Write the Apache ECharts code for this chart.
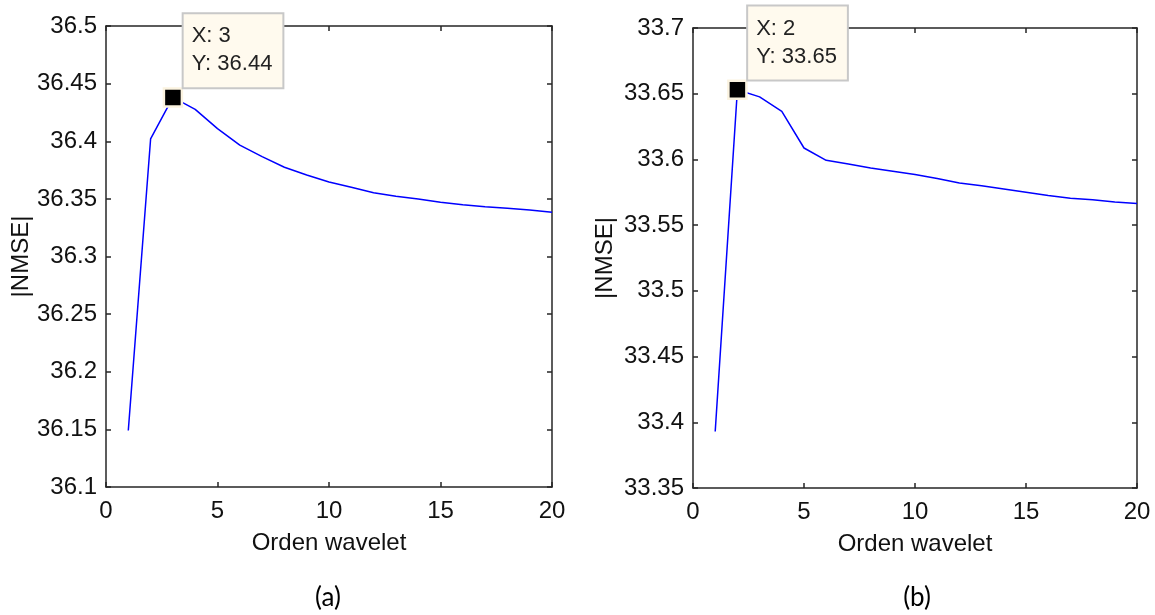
<!DOCTYPE html>
<html>
<head>
<meta charset="utf-8">
<script src="https://cdn.jsdelivr.net/npm/echarts@6/dist/echarts.min.js"></script>
<style>
  html, body { margin: 0; padding: 0; background: #fff; }
  #chart { width: 1155px; height: 615px; }
</style>
</head>
<body>
<div id="chart"></div>
<script>
// orden wavelet 1..20
var orden = [1, 2, 3, 4, 5, 6, 7, 8, 9, 10, 11, 12, 13, 14, 15, 16, 17, 18, 19, 20];
// |NMSE| panel (a)
var nmseA = [36.149, 36.402, 36.438, 36.4277, 36.411, 36.3967, 36.3866, 36.3774, 36.3707, 36.3646,
             36.360, 36.3554, 36.3522, 36.3499, 36.347, 36.345, 36.3432, 36.3418, 36.3403, 36.3383];
// |NMSE| panel (b)
var nmseB = [33.393, 33.653, 33.6476, 33.6366, 33.6087, 33.5993, 33.5965, 33.5935, 33.591, 33.5885,
             33.5855, 33.582, 33.580, 33.5775, 33.575, 33.5725, 33.5705, 33.5693, 33.5677, 33.5664];
// y ticks
var yTicksA = { min: 36.1, max: 36.5, interval: 0.05 };
var yTicksB = { min: 33.35, max: 33.7, interval: 0.05 };
// data tips
var tipA = { x: 3, y: 36.438, label: 'X: 3\nY: 36.44' };
var tipB = { x: 2, y: 33.653, label: 'X: 2\nY: 33.65' };

var FONT = 'Liberation Sans, Arial, sans-serif';
var AXC = '#262626';

function pairs(xs, ys) {
    return xs.map(function (x, i) { return [x, ys[i]]; });
}

function xAxes(gi) {
    var base = {
        type: 'value', gridIndex: gi, min: 0, max: 20, interval: 5,
        axisLine: { show: true, onZero: false, lineStyle: { color: AXC, width: 1.5 } },
        axisTick: { show: true, inside: true, length: 5, lineStyle: { color: AXC, width: 1.5 } },
        splitLine: { show: false }
    };
    var bottom = Object.assign({}, base, {
        position: 'bottom',
        name: 'Orden wavelet', nameLocation: 'middle', nameGap: 44,
        nameTextStyle: { fontFamily: FONT, fontSize: 24, color: '#111' },
        axisLabel: { fontFamily: FONT, fontSize: 24, color: '#111', margin: 12 }
    });
    var top = Object.assign({}, base, { position: 'top', axisLabel: { show: false } });
    return [bottom, top];
}

function yAxes(gi, t, gap) {
    var base = {
        type: 'value', gridIndex: gi, min: t.min, max: t.max, interval: t.interval,
        axisLine: { show: true, onZero: false, lineStyle: { color: AXC, width: 1.5 } },
        axisTick: { show: true, inside: true, length: 5, lineStyle: { color: AXC, width: 1.5 } },
        splitLine: { show: false }
    };
    var left = Object.assign({}, base, {
        position: 'left',
        name: '|NMSE|', nameLocation: 'middle', nameGap: gap, nameRotate: 90,
        nameTextStyle: { fontFamily: FONT, fontSize: 24, color: '#111' },
        axisLabel: { fontFamily: FONT, fontSize: 24, color: '#111', margin: 9 }
    });
    var right = Object.assign({}, base, { position: 'right', axisLabel: { show: false } });
    return [left, right];
}

function lineSeries(xi, yi, data, tip) {
    return {
        type: 'line', xAxisIndex: xi, yAxisIndex: yi,
        data: data, showSymbol: false, symbol: 'none',
        lineStyle: { color: '#0000ff', width: 1.5 },
        animation: false,
        markPoint: {
            symbol: 'rect', symbolSize: 18,
            itemStyle: { color: '#000', borderColor: '#fbf3e0', borderWidth: 2.5 },
            label: {
                show: true, position: [21, -73],
                formatter: tip.label,
                fontFamily: FONT, fontSize: 22, lineHeight: 28, color: '#222',
                align: 'left', verticalAlign: 'top',
                backgroundColor: '#fffaee', borderColor: '#c8c8c8', borderWidth: 2,
                padding: [8, 10, 9, 8]
            },
            data: [{ coord: [tip.x, tip.y] }]
        }
    };
}

var chart = echarts.init(document.getElementById('chart'), null, { renderer: 'canvas' });
var ax = xAxes(0).concat(xAxes(1));
var ay = yAxes(0, yTicksA, 72).concat(yAxes(1, yTicksB, 76));

var option = {
    backgroundColor: '#fff',
    animation: false,
    grid: [
        { left: 106, top: 26, width: 446, height: 461, outerBoundsMode: 'none' },
        { left: 693, top: 28, width: 444, height: 460, outerBoundsMode: 'none' }
    ],
    xAxis: ax,
    yAxis: ay,
    series: [
        lineSeries(0, 0, pairs(orden, nmseA), tipA),
        lineSeries(2, 2, pairs(orden, nmseB), tipB)
    ],
    graphic: [
        { type: 'text', x: 328, y: 598, style: { text: '(a)', font: '26px Lato, sans-serif', fill: '#000', align: 'center', verticalAlign: 'middle' } },
        { type: 'text', x: 917, y: 598, style: { text: '(b)', font: '26px Lato, sans-serif', fill: '#000', align: 'center', verticalAlign: 'middle' } }
    ]
};
chart.setOption(option);
</script>
</body>
</html>
